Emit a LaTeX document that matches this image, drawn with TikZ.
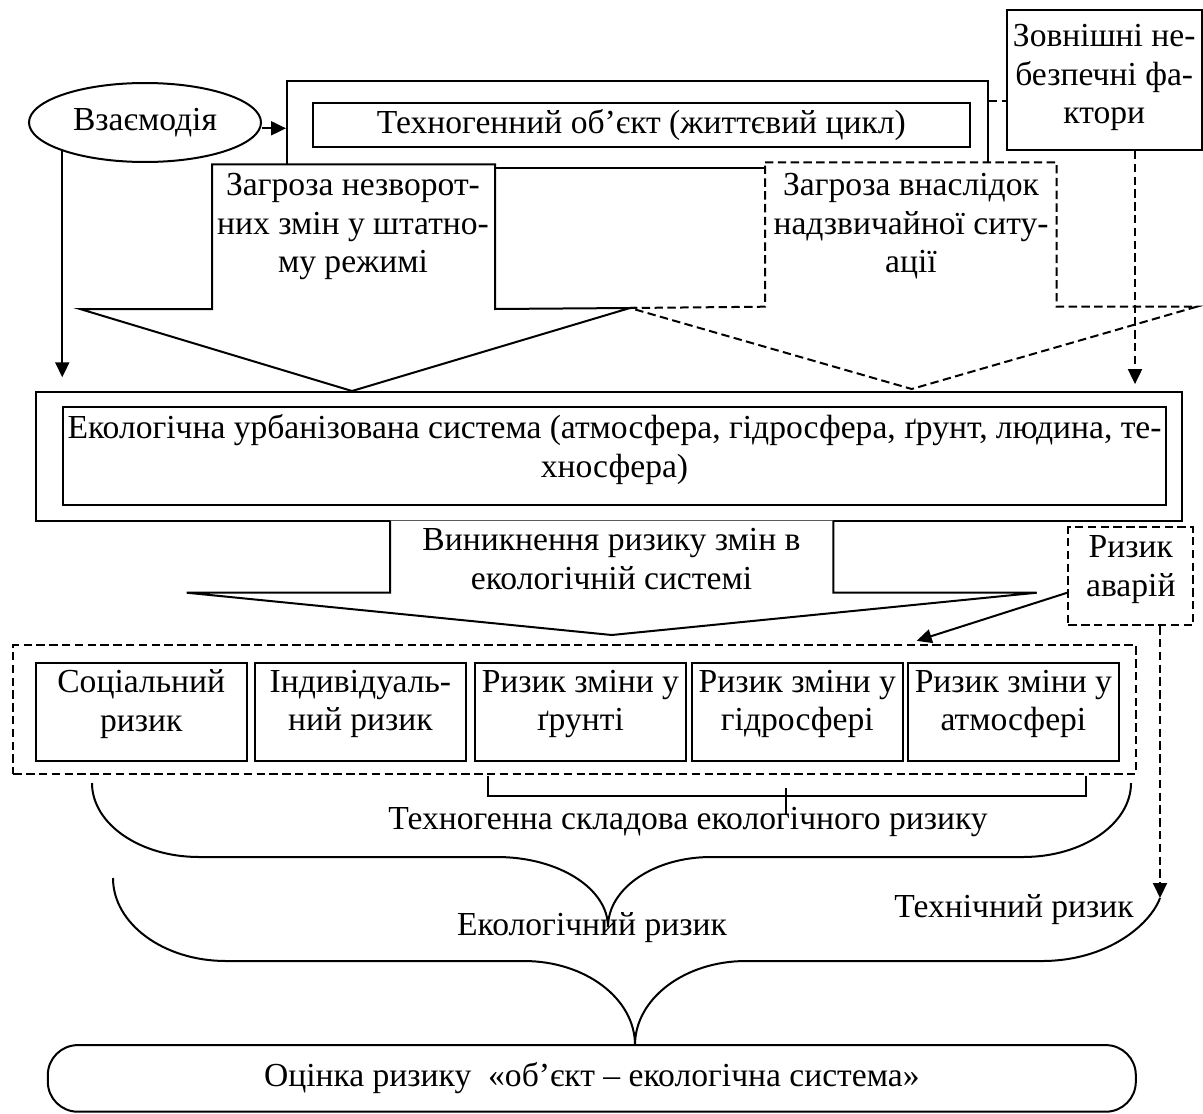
\documentclass[tikz,border=0pt]{standalone}
\usepackage{fontspec}
\setmainfont{Liberation Serif}
\usepackage{tikz}
\usetikzlibrary{arrows.meta,%
                positioning,%
                shapes.geometric}

\begin{document}
\begin{tikzpicture}[x=0.5pt,y=-0.5pt,line width=1pt,
    font=\fontsize{16.8}{19.4}\selectfont,
    >={Triangle[length=7.5pt,width=7pt]}]
    \tikzstyle{BoxStyle}=[draw,rectangle,inner sep=0pt]
    \tikzstyle{RiskStyle}=[BoxStyle,minimum width=105.3pt,minimum height=49.4pt]
    \tikzstyle{DashStyle}=[dash pattern=on 4.2pt off 2.2pt]
    \tikzstyle{TextStyle}=[inner sep=0pt,align=center]
    \useasboundingbox (0,0) rectangle (1203,1113);
    \node[draw,ellipse,minimum width=116pt,minimum height=39.5pt,inner sep=0pt] (int) at (145,122.5) {Взаємодія};
    \node[BoxStyle,minimum width=350.4pt,minimum height=43.3pt] (tob) at (637.4,124.4) {};
    \node[BoxStyle,minimum width=328.6pt,minimum height=21.7pt] (tin) at (641.4,125) {Техногенний об’єкт (життєвий цикл)};
    \node[BoxStyle,minimum width=97.5pt,minimum height=70pt] (ext) at (1104.2,80) {};
    \node[TextStyle,below=7pt of ext.north] (extt) {Зовнішні не-\\безпечні фа-\\ктори};
    \draw[fill=white] (212,164.3) -- (495,164.3) -- (495,309) -- (630,308) -- (352,391) -- (80,309) -- (212,309) -- cycle;
    \draw[DashStyle,fill=white] (765,162.3) -- (1056.7,162.3) -- (1056.7,306.7) -- (1196.7,306.7) -- (911.7,389) -- (630,308) -- (765,306.7) -- cycle;
    \node[TextStyle,anchor=north] (thr1) at (353,172) {Загроза незворот-\\них змін у штатно-\\му режимі};
    \node[TextStyle,anchor=north] (thr2) at (911,172) {Загроза внаслідок\\надзвичайної ситу-\\ації};
    \node[BoxStyle,minimum width=572.9pt,minimum height=64.4pt] (eco) at (608.6,456.1) {};
    \node[BoxStyle,minimum width=551.2pt,minimum height=49.2pt] (ecoin) at (614.5,455.9) {};
    \node[TextStyle,below=4pt of ecoin.north] (ecot) {\makebox[547pt][s]{Екологічна урбанізована система (атмосфера, гідросфера, ґрунт, людина, те-}\\хносфера)};
    \draw[fill=white] (390,520.5) -- (390,592.7) -- (186.7,592.7) -- (611.7,635) -- (1036.7,592.7) -- (833.3,592.7) -- (833.3,520.5);
    \node[TextStyle,anchor=north] (emg) at (611.5,527) {Виникнення ризику змін в\\екологічній системі};
    \node[BoxStyle,DashStyle,minimum width=62.5pt,minimum height=48.9pt] (ava) at (1130.8,576.2) {};
    \node[TextStyle,below=4.2pt of ava.north] (avat) {Ризик\\аварій};
    \node[BoxStyle,DashStyle,minimum width=561.2pt,minimum height=64.5pt] (grp) at (574.5,709.5) {};
    \node[RiskStyle] (soc) at (141.2,712) {};
    \node[RiskStyle] (ind) at (360.4,712) {};
    \node[RiskStyle] (gru) at (580.4,712) {};
    \node[RiskStyle] (hyd) at (797.3,712) {};
    \node[RiskStyle] (atm) at (1013.4,712) {};
    \node[TextStyle,below=3.6pt of soc.north] (soct) {Соціальний\\ризик};
    \node[TextStyle,below=3.6pt of ind.north] (indt) {Індивідуаль-\\ний ризик};
    \node[TextStyle,below=3.6pt of gru.north] (grut) {Ризик зміни у\\ґрунті};
    \node[TextStyle,below=3.6pt of hyd.north] (hydt) {Ризик зміни у\\гідросфері};
    \node[TextStyle,below=3.6pt of atm.north] (atmt) {Ризик зміни у\\атмосфері};
    \node[BoxStyle,rounded corners=15pt,minimum width=544pt,minimum height=33.3pt] (ots) at (591.8,1078.4) {Оцінка ризику \ «об’єкт – екологічна система»};
    \node[TextStyle] (tsk) at (688,822) {Техногенна складова екологічного ризику};
    \node[TextStyle] (eko) at (592,928) {Екологічний ризик};
    \node[TextStyle] (tex) at (1014,910) {Технічний ризик};
    \coordinate (inte) at ([yshift=-2.9pt]int.east);
    \coordinate (tobr) at ([yshift=11.7pt]tob.east);
    \coordinate (extd) at ([xshift=15.4pt]ext.south);
    \coordinate (avaw) at ([yshift=-8.25pt]ava.west);
    \coordinate (avas) at ([xshift=14.6pt]ava.south);
    \coordinate (b2r) at (1160,898);
    \draw[->] (inte) -- (inte -| tob.west);
    \draw[->,shorten >=6.7pt] (int.south west) -- (int.south west |- eco.north);
    \draw[DashStyle] (tobr) -- (tobr -| ext.west);
    \draw[DashStyle,->,shorten >=3.3pt] (extd) -- (extd |- eco.north);
    \draw[->] (avaw) -- ([xshift=171.1pt,yshift=1.6pt]grp.north);
    \draw[DashStyle,->] (avas) -- (avas |- b2r);
    \draw (488.3,775.5) -- (488.3,796) -- (1086,796) -- (1086,775.5);
    \draw (786,788) -- (786,815);
    \draw (92,783) .. controls (92,823.9) and (139.9,857) .. (199,857) -- (497,857)
        .. controls (558.3,857) and (608,888.3) .. (608,927)
        .. controls (608,888.3) and (654,857) .. (711,857) -- (1023,857)
        .. controls (1082.6,857) and (1131,823.9) .. (1131,783);
    \draw (113,878) .. controls (113,923.8) and (163.6,961) .. (226,961) -- (524,961)
        .. controls (585.3,961) and (635,998.6) .. (635,1045)
        .. controls (635,998.6) and (684.7,961) .. (746,961) -- (1042,961)
        .. controls (1107,961) and (1150,925) .. (b2r);
\end{tikzpicture}
\end{document}
